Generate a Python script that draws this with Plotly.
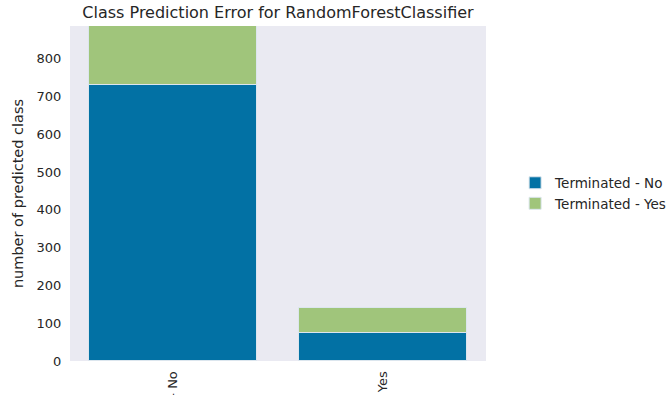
import plotly.graph_objects as go

classes = ["Terminated - No", "Terminated - Yes"]
series_names = ["Terminated - No", "Terminated - Yes"]
no_counts = [731, 74]
yes_counts = [156, 66]
colors = ["#0271a4", "#a0c57b"]

fig = go.Figure()
for name, vals, col in zip(series_names, [no_counts, yes_counts], colors):
    fig.add_trace(go.Bar(
        x=list(range(len(classes))), y=vals, name=name,
        marker=dict(color=col, line=dict(color="#dce6ee", width=1)),
        width=0.8,
    ))

total_max = max(a + b for a, b in zip(no_counts, yes_counts))

fig.update_layout(
    barmode="stack",
    width=669, height=395,
    margin=dict(l=70, r=183, t=26, b=34, autoexpand=False),
    paper_bgcolor="white",
    plot_bgcolor="#eaeaf2",
    font=dict(family="DejaVu Sans", size=13, color="#262626"),
    title=dict(text="Class Prediction Error for RandomForestClassifier",
               x=278/669, xanchor="center", y=1 - 12/395, yanchor="middle",
               font=dict(size=16, color="#262626")),
    xaxis=dict(
        tickmode="array", tickvals=list(range(len(classes))), ticktext=classes,
        tickangle=-90, range=[-0.49, 1.49], showgrid=False, zeroline=False,
        automargin=False, ticks="outside", ticklen=4, tickcolor="rgba(0,0,0,0)",
        showline=False, tickfont=dict(size=13),
    ),
    yaxis=dict(
        range=[0, total_max], showgrid=False, zeroline=False, dtick=100,
        automargin=False, ticks="outside", ticklen=5, tickcolor="rgba(0,0,0,0)",
        showline=False,
        title=dict(text="number of predicted class", standoff=9, font=dict(size=14.5)),
        tickfont=dict(size=13),
    ),
    legend=dict(x=1.07, xanchor="left", y=0.5, yanchor="middle",
                font=dict(size=13.5), bgcolor="rgba(0,0,0,0)", traceorder="normal"),
    bargap=0,
)

fig.write_html("out.html")
